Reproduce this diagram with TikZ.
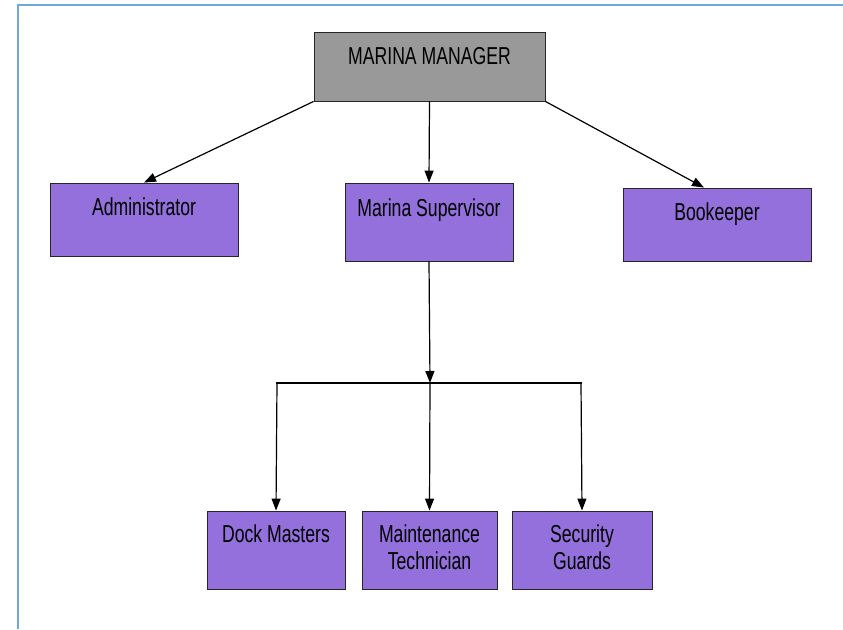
\documentclass[tikz,border=0pt]{standalone}
\usepackage{fontspec}
\setmainfont{Liberation Sans}
\newfontfamily\narrowfont[FakeStretch=0.72]{Liberation Sans}
\usetikzlibrary{arrows.meta}
\definecolor{boxpurple}{RGB}{147,112,219}
\definecolor{boxgray}{RGB}{153,153,153}
\definecolor{frameblue}{RGB}{111,168,220}
\tikzset{
  orgbox/.style={draw=black!85, line width=0.9pt, inner sep=0pt},
  purplebox/.style={orgbox, fill=boxpurple},
  graybox/.style={orgbox, fill=boxgray},
  boxtext/.style={anchor=base, inner sep=0pt, align=center, font=\narrowfont\fontsize{24.5}{27}\selectfont},
  link/.style={line width=1.2pt, -{Triangle[length=12pt,width=9pt]}},
  busline/.style={line width=2.4pt},
}
\begin{document}
\begin{tikzpicture}[x=1pt,y=-1pt]
\useasboundingbox (0,0) rectangle (843,629);
% frame lines (top and left)
\draw[frameblue, line width=2pt] (18,629) -- (18,5) -- (843,5);

% boxes
\node[graybox, minimum width=231pt, minimum height=69pt] (mgr) at (429.5,66.5) {};
\node[purplebox, minimum width=188pt, minimum height=73pt] (adm) at (144,219.5) {};
\node[purplebox, minimum width=168pt, minimum height=78pt] (sup) at (429,222) {};
\node[purplebox, minimum width=188pt, minimum height=73pt] (book) at (717,224.5) {};
\node[purplebox, minimum width=138pt, minimum height=78pt] (dock) at (276,550) {};
\node[purplebox, minimum width=135pt, minimum height=78pt] (maint) at (429.5,550) {};
\node[purplebox, minimum width=140pt, minimum height=78pt] (sec) at (582,550) {};

% texts
\node[boxtext] (mgrt) at ([yshift=-33pt]mgr.north) {MARINA MANAGER};
\node[boxtext] (admt) at ([yshift=-33pt]adm.north) {Administrator};
\node[boxtext] (supt) at ([yshift=-34pt]sup.north) {Marina Supervisor};
\node[boxtext] (bookt) at ([yshift=-33pt]book.north) {Bookeeper};
\node[boxtext] (dockt) at ([yshift=-32pt]dock.north) {Dock Masters};
\node[boxtext] (maintt) at ([yshift=-59pt]maint.north) {Maintenance\\Technician};
\node[boxtext] (sect) at ([yshift=-59pt]sec.north) {Security\\Guards};

% connectors from manager
\draw[link] (mgr.south west) -- (adm.north);
\draw[link] (mgr.south) -- (sup.north);
\draw[link] (mgr.south east) -- ([xshift=-13pt]book.north);

% bus
\coordinate (b1) at (277,383);
\coordinate (b2) at (430,383);
\coordinate (b3) at (581,383);
\draw[link] (sup.south) -- (b2);
\draw[busline] ([xshift=-1pt]b1) -- ([xshift=1pt]b3);
\draw[link] (b1) -- (dock.north);
\draw[link] (b2) -- (maint.north);
\draw[link] (b3) -- (sec.north);
\end{tikzpicture}
\end{document}
